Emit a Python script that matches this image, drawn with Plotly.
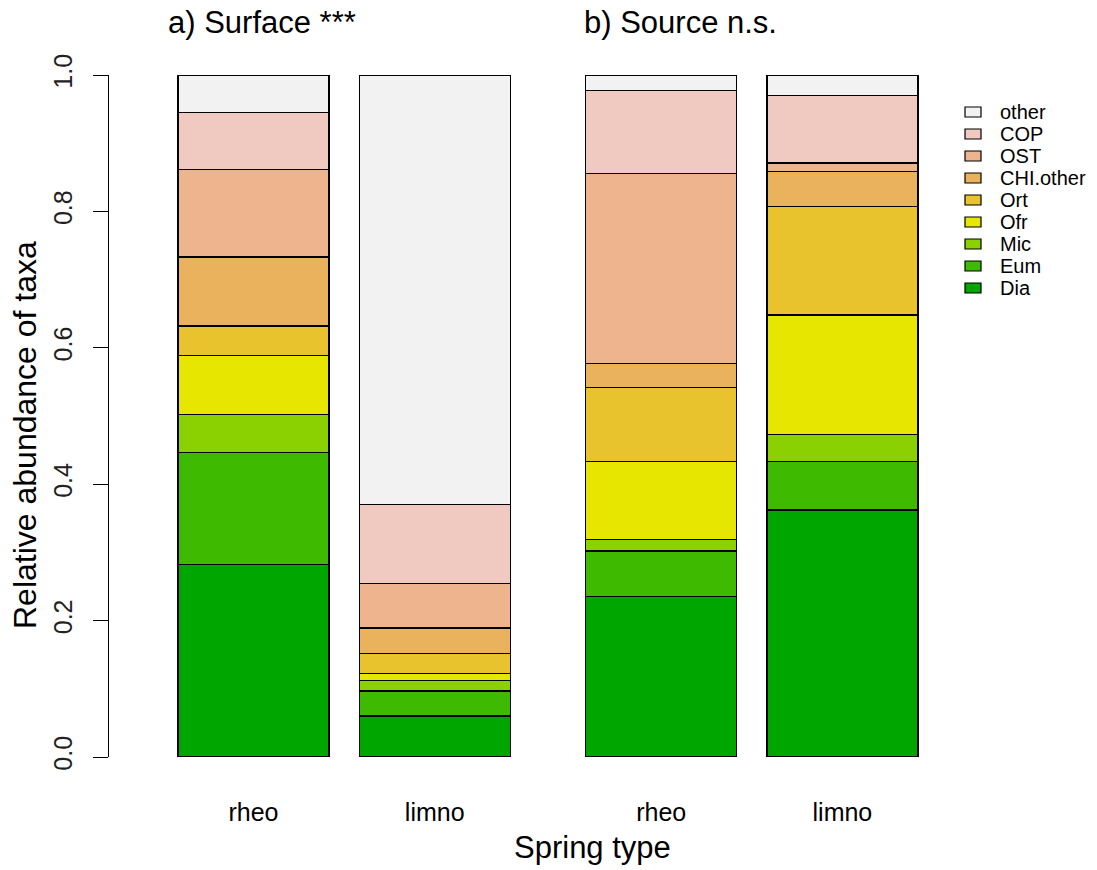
import plotly.graph_objects as go

# Relative abundance per taxon for the four spring samples
groups = ["a) Surface ***", "b) Source n.s."]
bar_labels = ["rheo", "limno", "rheo", "limno"]
bar_centers = [0.7, 1.9, 3.4, 4.6]

taxa = ["Dia", "Eum", "Mic", "Ofr", "Ort", "CHI.other", "OST", "COP", "other"]
colors = ["#00A600", "#3EBB00", "#8BD000", "#E6E600", "#E8C32E",
          "#EBB25E", "#EDB48E", "#F0C9C0", "#F2F2F2"]

Dia = [0.282, 0.060, 0.235, 0.362]
Eum = [0.164, 0.037, 0.067, 0.071]
Mic = [0.056, 0.015, 0.017, 0.040]
Ofr = [0.087, 0.010, 0.114, 0.175]
Ort = [0.043, 0.030, 0.109, 0.159]
CHI_other = [0.101, 0.037, 0.035, 0.051]
OST = [0.128, 0.065, 0.279, 0.013]
COP = [0.084, 0.116, 0.121, 0.099]
other = [0.055, 0.630, 0.023, 0.030]

values = [Dia, Eum, Mic, Ofr, Ort, CHI_other, OST, COP, other]

FONT = "Liberation Sans, Arial, sans-serif"

fig = go.Figure()
for name, vals, col in zip(taxa, values, colors):
    fig.add_trace(go.Bar(
        x=bar_centers, y=vals, name=name, width=1.0,
        marker=dict(color=col, line=dict(color="black", width=1.3)),
        showlegend=False,
    ))

# Plot area: left edge at the y-axis line, x units = bar widths
W, H = 1097, 870
left_px, right_px, top_px, bottom_px = 109, 940, 75, 757
unit_px = 151.0
x_origin_px = 147.8
x_range = [(left_px - x_origin_px) / unit_px, (right_px - x_origin_px) / unit_px]

fig.update_layout(
    width=W, height=H,
    barmode="stack",
    paper_bgcolor="white", plot_bgcolor="white",
    margin=dict(l=left_px, r=W - right_px, t=top_px, b=H - bottom_px, pad=0),
    font=dict(family=FONT, color="black"),
    xaxis=dict(
        range=x_range, showgrid=False, zeroline=False, showline=False,
        tickvals=bar_centers, ticktext=bar_labels, ticks="",
        tickfont=dict(size=25, family=FONT, color="black"),
        ticklabelstandoff=38,
    ),
    yaxis=dict(
        range=[0, 1], showgrid=False, zeroline=False,
        showline=True, linecolor="black", linewidth=1,
        ticks="outside", ticklen=15, tickwidth=1, tickcolor="black",
        tickvals=[0, 0.2, 0.4, 0.6, 0.8, 1.0],
        ticktext=["0.0", "0.2", "0.4", "0.6", "0.8", "1.0"],
        tickangle=-90,
        tickfont=dict(size=25, family=FONT, color="#222222"),
        ticklabelstandoff=11,
    ),
)

def px_to_paper_x(px):
    return (px - left_px) / (right_px - left_px)

def px_to_paper_y(py):
    return (bottom_px - py) / (bottom_px - top_px)

annotations = []
# Panel titles
for text, xpx in zip(groups, [166, 582]):
    annotations.append(dict(
        text=text, x=px_to_paper_x(xpx), y=px_to_paper_y(22),
        xref="paper", yref="paper", xanchor="left", yanchor="middle",
        showarrow=False, font=dict(size=31, family=FONT, color="black"),
    ))
# Axis titles
annotations.append(dict(
    text="Relative abundance of taxa", textangle=-90,
    x=px_to_paper_x(25), y=px_to_paper_y(435),
    xref="paper", yref="paper", xanchor="center", yanchor="middle",
    showarrow=False, font=dict(size=32, family=FONT, color="black"),
))
annotations.append(dict(
    text="Spring type",
    x=px_to_paper_x(592), y=px_to_paper_y(848),
    xref="paper", yref="paper", xanchor="center", yanchor="middle",
    showarrow=False, font=dict(size=31, family=FONT, color="black"),
))

# Legend: swatch boxes with labels, top entry is the last taxon
shapes = []
row_gap = 22
first_row = 112
for i, (name, col) in enumerate(zip(taxa[::-1], colors[::-1])):
    cy = first_row + i * row_gap
    shapes.append(dict(
        type="rect", xref="paper", yref="paper",
        x0=px_to_paper_x(965), x1=px_to_paper_x(981),
        y0=px_to_paper_y(cy + 5), y1=px_to_paper_y(cy - 5),
        fillcolor=col, line=dict(color="black", width=1.2),
    ))
    annotations.append(dict(
        text=name, x=px_to_paper_x(998), y=px_to_paper_y(cy),
        xref="paper", yref="paper", xanchor="left", yanchor="middle",
        showarrow=False, font=dict(size=20, family=FONT, color="black"),
    ))

fig.update_layout(annotations=annotations, shapes=shapes)

fig.write_html("out.html")
